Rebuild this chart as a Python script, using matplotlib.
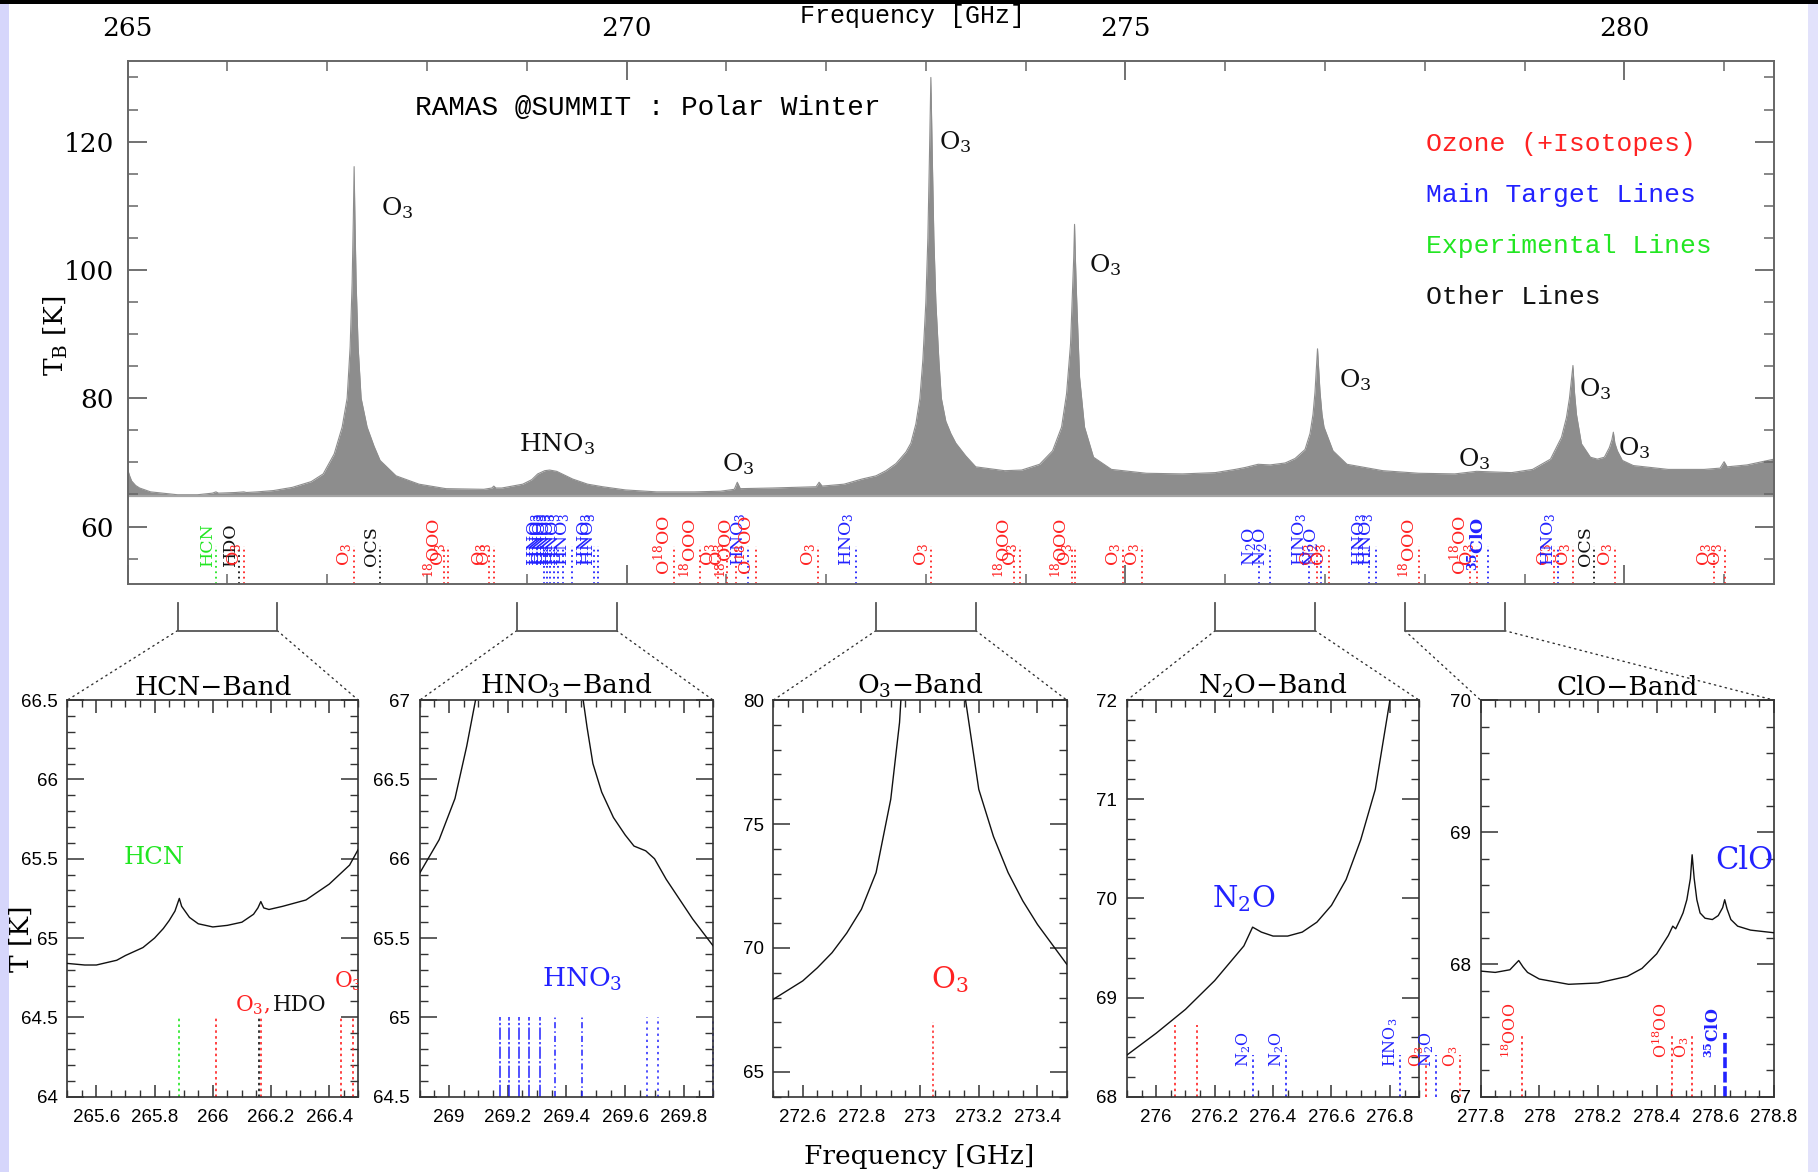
import matplotlib
matplotlib.use("Agg")
import matplotlib.pyplot as plt
import matplotlib.transforms as mtransforms
from matplotlib.ticker import MultipleLocator, FuncFormatter
from matplotlib.patches import ConnectionPatch, Rectangle
from matplotlib.lines import Line2D

plt.rcParams['font.family'] = ['DejaVu Serif']
plt.rcParams['mathtext.fontset'] = 'dejavuserif'

# ---------------- data ----------------
spec_freq = [265.00, 265.02, 265.04, 265.08, 265.12, 265.23, 265.50, 265.70, 265.85, 265.885,
             265.91, 266.08, 266.165, 266.19, 266.30, 266.46, 266.65, 266.84, 266.96, 267.07,
             267.15, 267.20, 267.23, 267.25, 267.262, 267.27, 267.278, 267.29, 267.31, 267.34,
             267.40, 267.47, 267.53, 267.69, 267.92, 268.19, 268.57, 268.65, 268.67, 268.69,
             268.75, 268.96, 269.05, 269.11, 269.18, 269.23, 269.30, 269.38, 269.46, 269.61,
             269.76, 269.99, 270.30, 270.68, 270.94, 271.08, 271.11, 271.14, 271.46, 271.90,
             271.93, 271.96, 272.18, 272.36, 272.50, 272.60, 272.70, 272.80, 272.85, 272.90,
             272.94, 272.97, 273.00, 273.02, 273.035, 273.05, 273.065, 273.08, 273.10, 273.13,
             273.155, 273.20, 273.25, 273.30, 273.40, 273.50, 273.79, 273.96, 274.14, 274.27,
             274.36, 274.41, 274.45, 274.47, 274.482, 274.49, 274.498, 274.51, 274.54, 274.59,
             274.68, 274.86, 275.21, 275.57, 275.90, 276.10, 276.20, 276.33, 276.45, 276.60,
             276.70, 276.80, 276.85, 276.88, 276.90, 276.915, 276.925, 276.935, 276.95, 276.97,
             276.99, 277.08, 277.22, 277.58, 277.94, 278.30, 278.52, 278.87, 279.08, 279.26,
             279.37, 279.42, 279.45, 279.47, 279.485, 279.50, 279.52, 279.57, 279.66, 279.73,
             279.80, 279.85, 279.875, 279.89, 279.905, 279.93, 279.98, 280.09, 280.44, 280.80,
             280.96, 281.00, 281.03, 281.23, 281.50]
spec_tb = [68.9, 67.9, 67.1, 66.4, 66.0, 65.4, 64.95, 64.95, 65.2, 65.4,
           65.2, 65.3, 65.4, 65.3, 65.4, 65.6, 66.1, 67.0, 68.2, 71.3,
           75.5, 80.0, 88.0, 98.0, 108.0, 116.1, 108.0, 98.0, 88.0, 80.0,
           75.5, 72.5, 70.3, 67.9, 66.6, 65.9, 65.8, 66.0, 66.3, 66.0,
           66.0, 66.6, 67.3, 68.2, 68.7, 68.8, 68.6, 68.0, 67.4, 66.6,
           66.2, 65.7, 65.4, 65.4, 65.5, 65.8, 66.9, 65.9, 66.0, 66.2,
           66.9, 66.3, 66.6, 67.4, 67.9, 68.7, 69.8, 71.6, 73.0, 76.0,
           80.0, 86.0, 95.0, 105.0, 117.0, 130.0, 117.0, 105.0, 95.0, 86.0,
           80.0, 76.4, 74.5, 73.0, 71.0, 69.3, 68.7, 68.8, 69.7, 71.8,
           75.5, 80.7, 88.5, 97.0, 102.0, 107.1, 102.0, 96.0, 83.3, 75.5,
           70.8, 68.9, 68.3, 68.2, 68.4, 68.9, 69.2, 69.7, 69.6, 69.9,
           70.6, 72.0, 74.5, 77.5, 81.0, 85.0, 87.7, 85.0, 81.0, 77.5,
           75.5, 71.8, 69.7, 68.7, 68.3, 68.2, 68.6, 68.4, 68.9, 70.5,
           73.9, 77.0, 80.0, 83.0, 85.1, 81.0, 77.5, 72.9, 70.8, 70.5,
           70.8, 72.3, 73.5, 74.7, 73.0, 71.8, 70.3, 69.5, 68.9, 68.9,
           69.1, 70.1, 69.3, 69.6, 70.5]

peak_label_freq = [267.70, 269.30, 271.12, 273.29, 274.80, 277.30, 278.50, 279.71, 280.10]
peak_label_tb = [109.6, 72.9, 69.8, 120.0, 100.8, 82.8, 70.5, 81.4, 72.3]
peak_label_species = ['O3', 'HNO3', 'O3', 'O3', 'O3', 'O3', 'O3', 'O3', 'O3']

strip_freq = [265.884, 266.12, 266.17, 267.27, 267.53, 268.17, 268.21, 268.62, 268.67,
              269.172, 269.204, 269.237, 269.272, 269.309, 269.361, 269.453, 269.675, 269.713,
              270.48, 270.74, 270.92, 271.01, 271.10, 271.22, 271.30, 271.92, 272.30,
              273.05, 273.88, 273.94, 274.46, 274.49, 274.98, 275.17,
              276.34, 276.45, 276.84, 276.92, 276.955, 277.04, 277.44, 277.51,
              277.94, 278.45, 278.52, 278.63,
              279.30, 279.34, 279.49, 279.70, 279.91, 280.90, 281.01]
strip_species = ['HCN', 'HDO', 'O3', 'O3', 'OCS', '18OOO', 'O3', 'O3', 'O3',
                 'HNO3', 'HNO3', 'HNO3', 'HNO3', 'HNO3', 'HNO3', 'HNO3', 'HNO3', 'HNO3',
                 'O18OO', '18OOO', 'O3', 'O3', '18OOO', 'HNO3', 'O18OO', 'O3', 'HNO3',
                 'O3', '18OOO', 'O3', '18OOO', 'O3', 'O3', 'O3',
                 'N2O', 'N2O', 'HNO3', 'O3', 'N2O', 'O3', 'HNO3', 'HNO3',
                 '18OOO', 'O18OO', 'O3', '35ClO',
                 'O3', 'HNO3', 'O3', 'OCS', 'O3', 'O3', 'O3']

legend_entries = ['Ozone (+Isotopes)', 'Main Target Lines', 'Experimental Lines', 'Other Lines']
legend_groups = ['ozone', 'target', 'experimental', 'other']

band_names = ['HCN', 'HNO$_3$', 'O$_3$', 'N$_2$O', 'ClO']
band_lo = [265.5, 268.9, 272.5, 275.9, 277.8]
band_hi = [266.5, 269.9, 273.5, 276.9, 278.8]
band_ylim = [(64.0, 66.5), (64.5, 67.0), (64.0, 80.0), (68.0, 72.0), (67.0, 70.0)]
band_ymajor = [0.5, 0.5, 5, 1, 1]
band_yminor = [0.1, 0.1, 1, 0.2, 0.2]

hcn_freq = [265.50, 265.56, 265.60, 265.67, 265.70, 265.76, 265.80, 265.83, 265.85, 265.87,
            265.885, 265.893, 265.92, 265.95, 266.00, 266.05, 266.10, 266.14, 266.155, 266.165,
            266.175, 266.193, 266.24, 266.32, 266.40, 266.47, 266.50]
hcn_tb = [64.84, 64.83, 64.83, 64.86, 64.89, 64.94, 65.00, 65.06, 65.11, 65.17,
          65.25, 65.20, 65.13, 65.09, 65.07, 65.08, 65.10, 65.15, 65.19, 65.23,
          65.19, 65.18, 65.20, 65.24, 65.34, 65.46, 65.56]

hno3_freq = [268.90, 268.966, 269.02, 269.06, 269.09, 269.12, 269.25, 269.42, 269.457, 269.47,
             269.49, 269.52, 269.56, 269.60, 269.63, 269.67, 269.70, 269.74, 269.83, 269.90]
hno3_tb = [65.91, 66.12, 66.38, 66.71, 67.0, 67.4, 68.8, 67.4, 67.0, 66.83,
           66.6, 66.42, 66.26, 66.15, 66.08, 66.05, 66.0, 65.87, 65.62, 65.45]

o3_freq = [272.50, 272.60, 272.65, 272.70, 272.75, 272.80, 272.85, 272.90, 272.93, 272.96,
           273.05, 273.14, 273.155, 273.20, 273.25, 273.30, 273.35, 273.40, 273.50]
o3_tb = [67.93, 68.67, 69.2, 69.81, 70.6, 71.56, 73.04, 76.0, 79.1, 85.0,
         130.0, 82.0, 80.0, 76.4, 74.5, 73.04, 71.9, 70.95, 69.34]

n2o_freq = [275.90, 276.00, 276.10, 276.20, 276.30, 276.33, 276.36, 276.40, 276.45, 276.50,
            276.55, 276.60, 276.65, 276.70, 276.75, 276.80, 276.83]
n2o_tb = [68.42, 68.64, 68.88, 69.17, 69.52, 69.71, 69.66, 69.62, 69.62, 69.66,
          69.76, 69.93, 70.19, 70.59, 71.10, 72.0, 73.0]

clo_freq = [277.80, 277.85, 277.90, 277.93, 277.945, 277.96, 278.00, 278.10, 278.20, 278.30,
            278.35, 278.40, 278.44, 278.455, 278.465, 278.48, 278.49, 278.503, 278.515, 278.521,
            278.528, 278.537, 278.548, 278.565, 278.59, 278.61, 278.625, 278.632, 278.64, 278.653,
            278.676, 278.72, 278.80]
clo_tb = [67.95, 67.94, 67.96, 68.03, 67.98, 67.94, 67.89, 67.85, 67.86, 67.91,
          67.97, 68.08, 68.22, 68.29, 68.27, 68.34, 68.39, 68.49, 68.65, 68.83,
          68.65, 68.49, 68.39, 68.35, 68.34, 68.37, 68.43, 68.49, 68.42, 68.34,
          68.29, 68.26, 68.24]

hcn_line_freq = [265.885, 266.010, 266.160, 266.167, 266.440, 266.480]
hcn_line_species = ['HCN', 'O3', 'HDO', 'O3', 'O3', 'O3']
hno3_line_freq = [269.172, 269.204, 269.237, 269.272, 269.309, 269.361, 269.453, 269.675, 269.713, 269.900]
hno3_line_strength = [3, 3, 3, 3, 3, 2, 2, 1, 1, 1]
o3_line_freq = [273.044]
n2o_line_freq = [276.066, 276.140, 276.330, 276.445, 276.835, 276.924, 276.957, 277.040]
n2o_line_species = ['O3', 'O3', 'N2O', 'N2O', 'HNO3', 'O3', 'N2O', 'O3']
n2o_line_labeled = [False, False, True, True, True, True, True, True]
clo_line_freq = [277.940, 278.454, 278.522, 278.633]
clo_line_species = ['18OOO', 'O18OO', 'O3', '35ClO']

# ---------------- styles ----------------
group_color = {'ozone': '#ff2222', 'target': '#2222ff', 'experimental': '#22e622', 'other': '#111111'}
species_group = {'O3': 'ozone', '18OOO': 'ozone', 'O18OO': 'ozone', 'HNO3': 'target', 'N2O': 'target',
                 '35ClO': 'target', 'HCN': 'experimental', 'HDO': 'other', 'OCS': 'other'}
species_text = {'O3': r'O$_3$', '18OOO': r'$^{18}$OOO', 'O18OO': r'O$^{18}$OO', 'HNO3': r'HNO$_3$',
                'N2O': r'N$_2$O', '35ClO': r'$^{\mathbf{35}}$ClO', 'HCN': 'HCN', 'HDO': 'HDO', 'OCS': 'OCS'}
strip_label_base = {'18OOO': 52.0, 'O18OO': 52.5, '35ClO': 53.0}
SPINE_GRAY = '#666666'
FILL_BASE = 64.7


def col(sp):
    return group_color[species_group[sp]]


fig = plt.figure(figsize=(18.18, 11.72), dpi=100)

# background decoration
fig.add_artist(Rectangle((0, 0), 9 / 1818, 1 - 4 / 1172, transform=fig.transFigure,
                         facecolor='#d6d6fb', edgecolor='none', zorder=-5))
fig.add_artist(Rectangle((1 - 10 / 1818, 0), 10 / 1818, 1 - 4 / 1172, transform=fig.transFigure,
                         facecolor='#e2e2fb', edgecolor='none', zorder=-5))
fig.add_artist(Rectangle((0, 1 - 3.5 / 1172), 1, 3.5 / 1172, transform=fig.transFigure,
                         facecolor='black', edgecolor='none', zorder=-4))

# ---------------- main panel ----------------
ax = fig.add_axes([0.0702, 0.5015, 0.9056, 0.4461])
ax.set_xlim(265.0, 281.5)
ax.set_ylim(51.0, 132.5)
ax.fill_between(spec_freq, spec_tb, FILL_BASE, color='#8d8d8d', lw=0, zorder=1)
ax.plot(spec_freq, spec_tb, color='#8d8d8d', lw=0.8, zorder=1)
ax.axhline(FILL_BASE, color='#a5a5a5', lw=1.6, zorder=1)

ax.xaxis.set_major_locator(MultipleLocator(5))
ax.xaxis.set_minor_locator(MultipleLocator(1))
ax.yaxis.set_major_locator(MultipleLocator(20))
ax.yaxis.set_minor_locator(MultipleLocator(5))
ax.tick_params(which='both', direction='in', top=True, bottom=True, left=True, right=True,
               labeltop=True, labelbottom=False, color=SPINE_GRAY)
ax.tick_params(which='major', length=14, width=1.3, labelsize=19)
ax.tick_params(axis='x', which='major', pad=15)
ax.tick_params(axis='y', which='major', pad=10)
ax.tick_params(which='minor', length=7, width=1.1)
for s in ax.spines.values():
    s.set_color(SPINE_GRAY)
    s.set_linewidth(1.4)
ax.set_ylabel(r'T$_\mathrm{B}$ [K]', fontsize=19)
ax.yaxis.set_label_coords(-0.0352, 0.4745)

fig.text(0.502, 0.986, 'Frequency [GHz]', ha='center', va='center',
         family=['Liberation Mono', 'DejaVu Sans Mono'], fontsize=18)
ax.text(0.1746, 0.9115, 'RAMAS @SUMMIT : Polar Winter', transform=ax.transAxes,
        family=['Liberation Mono', 'DejaVu Sans Mono'], fontsize=20, ha='left', va='center')
for k, (txt, g) in enumerate(zip(legend_entries, legend_groups)):
    ax.text(0.7887, 0.842 - k * 0.0975, txt, transform=ax.transAxes, color=group_color[g],
            family=['Liberation Mono', 'DejaVu Sans Mono'], fontsize=19, ha='left', va='center')

for f, t, sp in zip(peak_label_freq, peak_label_tb, peak_label_species):
    ax.text(f, t, species_text[sp], fontsize=18, ha='center', va='center', color='#111111')

ybot = ax.get_ylim()[0]
for f, sp in zip(strip_freq, strip_species):
    c = col(sp)
    ax.plot([f, f], [ybot, 56.9], ls=(0, (1, 2)), color=c, lw=1.3, zorder=2)
    ax.text(f, strip_label_base.get(sp, 53.8), species_text[sp], rotation=90, ha='right', va='bottom',
            fontsize=12.5, color=c, fontweight='bold' if sp == '35ClO' else 'normal', zorder=3)

# ---------------- zoom panels ----------------
panel_lefts = [0.0370, 0.2309, 0.4254, 0.6199, 0.8144]
panel_widths = [0.1601, 0.1614, 0.1614, 0.1607, 0.1614]
panel_freq = [hcn_freq, hno3_freq, o3_freq, n2o_freq, clo_freq]
panel_tb = [hcn_tb, hno3_tb, o3_tb, n2o_tb, clo_tb]
fmt = FuncFormatter(lambda v, p: f'{v:g}')
blend = mtransforms.blended_transform_factory(ax.transData, fig.transFigure)
panels = []
for i in range(5):
    pax = fig.add_axes([panel_lefts[i], 0.0643, panel_widths[i], 0.3383])
    panels.append(pax)
    pax.plot(panel_freq[i], panel_tb[i], color='#111111', lw=1.0, zorder=3)
    pax.set_xlim(band_lo[i], band_hi[i])
    pax.set_ylim(*band_ylim[i])
    pax.xaxis.set_major_locator(MultipleLocator(0.2))
    pax.xaxis.set_minor_locator(MultipleLocator(0.05))
    pax.yaxis.set_major_locator(MultipleLocator(band_ymajor[i]))
    pax.yaxis.set_minor_locator(MultipleLocator(band_yminor[i]))
    pax.xaxis.set_major_formatter(fmt)
    pax.yaxis.set_major_formatter(fmt)
    pax.tick_params(which='both', direction='in', top=True, bottom=True, left=True, right=True,
                    color='#333333', labelsize=13.5, labelfontfamily='Liberation Sans')
    pax.tick_params(axis='x', which='major', length=9, width=1.1, pad=9)
    pax.tick_params(axis='x', which='minor', length=5, width=1.0)
    pax.tick_params(axis='y', which='major', length=12, width=1.1, pad=7)
    pax.tick_params(axis='y', which='minor', length=6, width=1.0)
    for s in pax.spines.values():
        s.set_color('#333333')
        s.set_linewidth(1.2)
    pax.set_title(band_names[i] + '\u2212Band', fontsize=19, pad=4)

    lo, hi = band_lo[i], band_hi[i]
    fig.add_artist(Line2D([lo, lo, hi, hi], [0.4857, 0.4619, 0.4619, 0.4857], transform=blend,
                          color='#555555', lw=1.3))
    for xa, xb in ((lo, 0), (hi, 1)):
        fig.add_artist(ConnectionPatch(xyA=(xa, 0.4619), coordsA=blend, xyB=(xb, 1),
                                       coordsB=pax.transAxes, ls=(0, (1, 3)), color='#333333', lw=1.0))

p_hcn, p_hno3, p_o3, p_n2o, p_clo = panels

# HCN panel
for f, sp in zip(hcn_line_freq, hcn_line_species):
    p_hcn.plot([f, f], [64.0, 64.5], ls=(0, (1.5, 2)), color=col(sp), lw=1.2, zorder=2)
p_hcn.text(265.695, 65.51, 'HCN', color=group_color['experimental'], fontsize=17.5, ha='left', va='center')
p_hcn.text(266.077, 64.54, r'O$_3$,', color=group_color['ozone'], fontsize=15.5, ha='left', va='baseline')
p_hcn.text(266.205, 64.54, 'HDO', color=group_color['other'], fontsize=15.5, ha='left', va='baseline')
p_hcn.text(266.415, 64.69, r'O$_3$', color=group_color['ozone'], fontsize=15.5, ha='left',
           va='baseline', clip_on=True)

# HNO3 panel
hno3_styles = {3: (0, (8, 1.5, 1.5, 1.5)), 2: (0, (4, 2, 1, 2)), 1: (0, (1.5, 2.5))}
for f, st in zip(hno3_line_freq, hno3_line_strength):
    p_hno3.plot([f, f], [64.5, 65.0], ls=hno3_styles[st], color=group_color['target'], lw=1.1,
                zorder=2, clip_on=False)
p_hno3.text(269.452, 65.24, r'HNO$_3$', color=group_color['target'], fontsize=19, ha='center', va='center')

# O3 panel
for f in o3_line_freq:
    p_o3.plot([f, f], [64.0, 67.0], ls=(0, (1.5, 2)), color=group_color['ozone'], lw=1.1, zorder=2)
p_o3.text(273.10, 68.74, r'O$_3$', color=group_color['ozone'], fontsize=21, ha='center', va='center')

# N2O panel
for f, sp, lab in zip(n2o_line_freq, n2o_line_species, n2o_line_labeled):
    c = col(sp)
    p_n2o.plot([f, f], [68.0, 68.42 if lab else 68.72], ls=(0, (1.5, 2)), color=c, lw=1.2,
               zorder=2, clip_on=False)
    if lab:
        p_n2o.text(f, 68.30, species_text[sp], rotation=90, ha='right', va='bottom', fontsize=11.5,
                   color=c, clip_on=False)
p_n2o.text(276.30, 70.0, r'N$_2$O', color=group_color['target'], fontsize=21, ha='center', va='center')

# ClO panel
for f, sp in zip(clo_line_freq, clo_line_species):
    c = col(sp)
    bold = sp == '35ClO'
    p_clo.plot([f, f], [67.0, 67.48], ls=(0, (3, 1)) if bold else (0, (1.5, 2)), color=c,
               lw=2.6 if bold else 1.2, zorder=2)
    p_clo.text(f - 0.006, 67.29, species_text[sp], rotation=90, ha='right', va='bottom', fontsize=11.5,
               color=c, fontweight='bold' if bold else 'normal')
p_clo.text(278.70, 68.79, 'ClO', color=group_color['target'], fontsize=22, ha='center', va='center')

fig.text(0.0115, 0.199, 'T [K]', rotation=90, fontsize=19, ha='center', va='center')
fig.text(0.5057, 0.0129, 'Frequency [GHz]', fontsize=19, ha='center', va='center')

fig.savefig('out.png', dpi=100)
